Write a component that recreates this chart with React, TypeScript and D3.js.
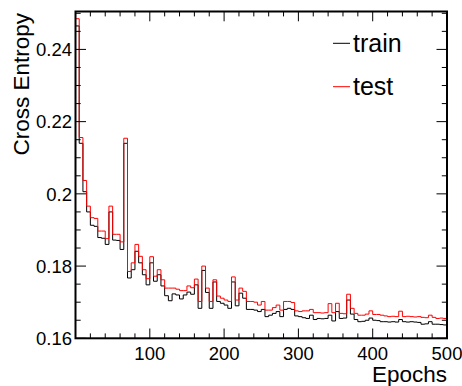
import React from "react";
import * as d3 from "d3";

const binWidth = 5;
const trainLoss = [
  0.2465, 0.2140, 0.2006, 0.1950, 0.1913, 0.1910, 0.1879, 0.1877, 0.1860, 0.1950,
  0.1872, 0.1871, 0.1846, 0.2140, 0.1767, 0.1790, 0.1841, 0.1809, 0.1776, 0.1748,
  0.1809, 0.1758, 0.1776, 0.1745, 0.1718, 0.1704, 0.1723, 0.1720, 0.1709, 0.1720,
  0.1728, 0.1722, 0.1748, 0.1683, 0.1788, 0.1727, 0.1683, 0.1756, 0.1702, 0.1697,
  0.1692, 0.1683, 0.1756, 0.1690, 0.1725, 0.1711, 0.1680, 0.1680, 0.1678, 0.1674,
  0.1680, 0.1660, 0.1664, 0.1669, 0.1674, 0.1660, 0.1680, 0.1683, 0.1680, 0.1662,
  0.1660, 0.1657, 0.1655, 0.1664, 0.1652, 0.1655, 0.1654, 0.1655, 0.1664, 0.1648,
  0.1674, 0.1655, 0.1656, 0.1706, 0.1667, 0.1652, 0.1646, 0.1647, 0.1650, 0.1656,
  0.1650, 0.1649, 0.1646, 0.1646, 0.1645, 0.1646, 0.1645, 0.1652, 0.1646, 0.1645,
  0.1646, 0.1645, 0.1644, 0.1639, 0.1640, 0.1646, 0.1639, 0.1639, 0.1638, 0.1637,
];
const testLoss = [
  0.2485, 0.2156, 0.2037, 0.1966, 0.1934, 0.1932, 0.1897, 0.1897, 0.1876, 0.1966,
  0.1888, 0.1888, 0.1867, 0.2154, 0.1785, 0.1809, 0.1860, 0.1827, 0.1790, 0.1765,
  0.1826, 0.1772, 0.1790, 0.1762, 0.1739, 0.1739, 0.1739, 0.1736, 0.1732, 0.1732,
  0.1745, 0.1740, 0.1764, 0.1702, 0.1800, 0.1739, 0.1702, 0.1762, 0.1717, 0.1711,
  0.1706, 0.1702, 0.1770, 0.1706, 0.1739, 0.1730, 0.1702, 0.1702, 0.1700, 0.1692,
  0.1702, 0.1678, 0.1678, 0.1685, 0.1692, 0.1678, 0.1702, 0.1702, 0.1699, 0.1676,
  0.1674, 0.1676, 0.1676, 0.1680, 0.1671, 0.1671, 0.1670, 0.1671, 0.1696, 0.1671,
  0.1697, 0.1669, 0.1668, 0.1722, 0.1683, 0.1669, 0.1664, 0.1664, 0.1667, 0.1676,
  0.1666, 0.1666, 0.1664, 0.1662, 0.1660, 0.1661, 0.1660, 0.1675, 0.1660, 0.1661,
  0.1660, 0.1659, 0.1660, 0.1658, 0.1657, 0.1664, 0.1658, 0.1655, 0.1656, 0.1655,
];
const xTickLabels = [100, 200, 300, 400, 500];
const yTickLabels = [0.16, 0.18, 0.2, 0.22, 0.24];
const seriesNames = ["train", "test"];
const seriesColors = ["#000000", "#ff0000"];

const W = 462;
const H = 386;
const L = 75.5, R = 447, T = 11.5, B = 338.3;
const FONT = "'Liberation Sans', Arial, Helvetica, sans-serif";

export default function App() {
  const x = d3.scaleLinear().domain([0, 500]).range([L, R]);
  const y = d3.scaleLinear().domain([0.16, 0.2505]).range([B, T]);

  const stepPath = (vals: number[]) => {
    const pts: [number, number][] = [[0, 0.16]];
    vals.forEach((v, i) => pts.push([i * binWidth, v]));
    pts.push([vals.length * binWidth, vals[vals.length - 1]]);
    pts.push([vals.length * binWidth, 0.16]);
    return d3
      .line<[number, number]>()
      .x((d) => x(d[0]))
      .y((d) => y(d[1]))
      .curve(d3.curveStepAfter)(pts) as string;
  };

  const xMinor = d3.range(0, 501, 20).filter((v) => v % 100 !== 0);
  const xMajor = d3.range(0, 501, 100);
  const yMinor = d3
    .range(0, 19)
    .map((i) => 0.16 + i * 0.005)
    .filter((v) => v <= 0.2505 && Math.abs((v - 0.16) / 0.02 - Math.round((v - 0.16) / 0.02)) > 1e-6);
  const yMajor = yTickLabels;

  const majX = 9.8, minX = 4.9, majY = 10.5, minY = 5.2;

  return (
    <svg width={W} height={H} style={{ position: "absolute", left: 0, top: 0, background: "#fff" }}>
      <defs>
        <clipPath id="plotclip">
          <rect x={L} y={T} width={R - L} height={B - T} />
        </clipPath>
      </defs>
      <rect x={0} y={0} width={W} height={H} fill="#fff" />
      <g clipPath="url(#plotclip)" fill="none" strokeWidth={1}>
        <path d={stepPath(trainLoss)} stroke={seriesColors[0]} />
        <path d={stepPath(testLoss)} stroke={seriesColors[1]} />
      </g>
      <g stroke="#000" strokeWidth={1}>
        {xMajor.map((v) => (
          <g key={"xM" + v}>
            <line x1={x(v)} x2={x(v)} y1={B} y2={B - majX} />
            <line x1={x(v)} x2={x(v)} y1={T} y2={T + majX} />
          </g>
        ))}
        {xMinor.map((v) => (
          <g key={"xm" + v}>
            <line x1={x(v)} x2={x(v)} y1={B} y2={B - minX} />
            <line x1={x(v)} x2={x(v)} y1={T} y2={T + minX} />
          </g>
        ))}
        {yMajor.map((v) => (
          <g key={"yM" + v}>
            <line x1={L} x2={L + majY} y1={y(v)} y2={y(v)} />
            <line x1={R} x2={R - majY} y1={y(v)} y2={y(v)} />
          </g>
        ))}
        {yMinor.map((v) => (
          <g key={"ym" + v}>
            <line x1={L} x2={L + minY} y1={y(v)} y2={y(v)} />
            <line x1={R} x2={R - minY} y1={y(v)} y2={y(v)} />
          </g>
        ))}
      </g>
      <rect x={L} y={T} width={R - L} height={B - T} fill="none" stroke="#000" strokeWidth={2} />
      <g fontFamily={FONT} fontSize={18.5} fill="#000">
        {xTickLabels.map((v) => (
          <text key={"xl" + v} x={x(v)} y={359.5} textAnchor="middle">
            {v}
          </text>
        ))}
        {yTickLabels.map((v) => (
          <text key={"yl" + v} x={72} y={y(v)} dy="0.36em" textAnchor="end">
            {String(v)}
          </text>
        ))}
      </g>
      <text x={447} y={381.5} textAnchor="end" fontFamily={FONT} fontSize={22.5}>
        Epochs
      </text>
      <text transform={`translate(28.5, 13) rotate(-90)`} textAnchor="end" fontFamily={FONT} fontSize={22.5}>
        Cross Entropy
      </text>
      {seriesNames.map((name, i) => (
        <g key={name}>
          <line x1={333} x2={350} y1={43.3 + i * 43.4} y2={43.3 + i * 43.4} stroke={seriesColors[i]} strokeWidth={1} />
          <text x={353} y={52 + i * 43} fontFamily={FONT} fontSize={25}>
            {name}
          </text>
        </g>
      ))}
    </svg>
  );
}
